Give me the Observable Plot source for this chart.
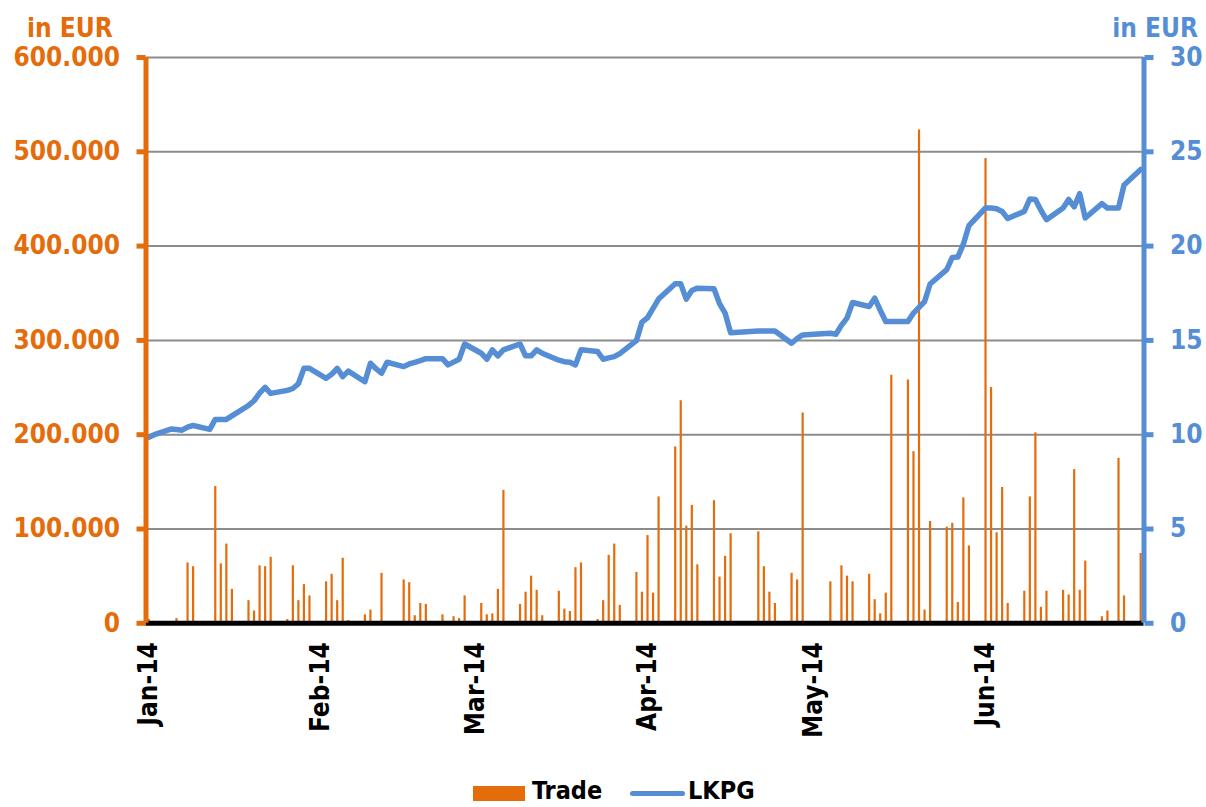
<!DOCTYPE html>
<html><head><meta charset="utf-8">
<script src="https://cdn.jsdelivr.net/npm/d3@7"></script>
<script src="https://cdn.jsdelivr.net/npm/@observablehq/plot@0.6"></script>
<style>
body{margin:0;background:#fff;}
#wrap{position:relative;width:1206px;height:807px;overflow:hidden;background:#fff;font-family:"DejaVu Sans Condensed","DejaVu Sans",sans-serif;font-weight:bold;}
#wrap svg{position:absolute;left:0;top:0;}
.lab{position:absolute;font-size:26px;line-height:1;white-space:nowrap;}
</style></head><body><div id="wrap"></div>
<script>
// Trading days (Jan–Jun 2014)
const dates = [
"2014-01-02","2014-01-03","2014-01-06","2014-01-07","2014-01-08","2014-01-09","2014-01-10","2014-01-13","2014-01-14","2014-01-15","2014-01-16","2014-01-17","2014-01-20","2014-01-21","2014-01-22","2014-01-23","2014-01-24","2014-01-27","2014-01-28","2014-01-29","2014-01-30","2014-01-31",
"2014-02-03","2014-02-04","2014-02-05","2014-02-06","2014-02-07","2014-02-10","2014-02-11","2014-02-12","2014-02-13","2014-02-14","2014-02-17","2014-02-18","2014-02-19","2014-02-20","2014-02-21","2014-02-24","2014-02-25","2014-02-26","2014-02-27","2014-02-28",
"2014-03-03","2014-03-04","2014-03-05","2014-03-06","2014-03-07","2014-03-10","2014-03-11","2014-03-12","2014-03-13","2014-03-14","2014-03-17","2014-03-18","2014-03-19","2014-03-20","2014-03-21","2014-03-24","2014-03-25","2014-03-26","2014-03-27","2014-03-28","2014-03-31",
"2014-04-01","2014-04-02","2014-04-03","2014-04-04","2014-04-07","2014-04-08","2014-04-09","2014-04-10","2014-04-11","2014-04-14","2014-04-15","2014-04-16","2014-04-17","2014-04-22","2014-04-23","2014-04-24","2014-04-25","2014-04-28","2014-04-29","2014-04-30",
"2014-05-02","2014-05-05","2014-05-06","2014-05-07","2014-05-08","2014-05-09","2014-05-12","2014-05-13","2014-05-14","2014-05-15","2014-05-16","2014-05-19","2014-05-20","2014-05-21","2014-05-22","2014-05-23","2014-05-26","2014-05-27","2014-05-28","2014-05-29","2014-05-30",
"2014-06-02","2014-06-03","2014-06-04","2014-06-05","2014-06-06","2014-06-09","2014-06-10","2014-06-11","2014-06-12","2014-06-13","2014-06-16","2014-06-17","2014-06-18","2014-06-19","2014-06-20","2014-06-23","2014-06-24","2014-06-25","2014-06-26","2014-06-27","2014-06-30"
];
// Trade (thousand EUR)
const trade = [
4,2,0,5,0,64,60,0,145,63,84,36,24,13,61,60,70,4,61,24,41,29,
44,52,24,69,3,9,14,1,53,0,46,43,8,21,20,9,0,7,5,29,
21,9,10,36,141,20,33,50,35,8,34,15,12.5,59,64,4,24,72,84,19,54,
33,93,32,134,187,236,103,125,62,130,49,71,95,97,60,33,21,53,46,223,
0,44,0,61,50,44,52,25,10,32,263,258,182,523,14,108,102,106,22,133,82,
493,250,96,144,21,34,134,202,17,34,35,30,163,35,66,7,13,0,175,29,74
];
// LKPG price (EUR)
const price = [
9.86,10.0,10.30,10.27,10.24,10.40,10.49,10.28,10.81,10.81,10.81,11.0,11.55,11.8,12.2,12.51,12.19,12.35,12.45,12.7,13.52,13.52,
12.99,13.2,13.52,13.08,13.37,12.81,13.79,13.5,13.26,13.84,13.61,13.75,13.84,13.93,14.03,14.03,13.70,13.85,14.0,14.81,
14.32,14.0,14.5,14.18,14.5,14.81,14.18,14.18,14.5,14.32,13.95,13.87,13.84,13.70,14.5,14.41,14.0,14.07,14.14,14.3,14.99,
15.97,16.2,16.7,17.19,18.0,18.0,17.19,17.65,17.77,17.74,16.95,16.45,15.41,15.5,15.5,15.5,15.5,14.85,15.1,15.29,
15.32,15.38,15.33,15.8,16.18,17.01,16.8,17.24,16.6,16.0,16.0,16.0,16.45,16.75,17.06,17.99,18.75,19.4,19.42,20.1,21.08,
22.02,22.02,21.98,21.84,21.46,21.84,22.5,22.47,21.9,21.4,22.02,22.47,22.08,22.78,21.49,22.25,22.02,22.02,22.02,23.24,24.06
];
const leftTicks = [0,100000,200000,300000,400000,500000,600000];
const rightTicks = [0,5,10,15,20,25,30];
const xTickDates = ["2014-01-02","2014-02-02","2014-03-02","2014-04-02","2014-05-02","2014-06-02"];

const orange = "#E46C0A", blue = "#558ED5";
const parse = d3.utcParse("%Y-%m-%d");
const rows = dates.map((d,i)=>({date: parse(d), trade: trade[i]*1000, price: price[i]}));
const day = 864e5;
const x0 = new Date(+rows[0].date - 0.5*day);
const x1 = new Date(+rows[rows.length-1].date + 0.6*day);
const k = leftTicks[leftTicks.length-1] / rightTicks[rightTicks.length-1];
const font = '"DejaVu Sans Condensed","DejaVu Sans",sans-serif';

const chart = Plot.plot({
  width: 1206, height: 780,
  marginTop: 57, marginBottom: 157.2, marginLeft: 145.5, marginRight: 62.5,
  style: {fontFamily: font, fontWeight: "bold", background: "transparent", overflow: "visible"},
  x: {type: "utc", domain: [x0, x1], label: null},
  y: {domain: [0, 600000], label: null},
  marks: [
    Plot.ruleY(leftTicks.filter(v => v > 0), {stroke: "#8c8c8c", strokeWidth: 2}),
    Plot.ruleX(rows.filter(d => d.trade > 0), {x: "date", y1: 0, y2: "trade", stroke: orange, strokeWidth: 2.2}),
    Plot.line(rows, {x: "date", y: d => d.price * k, stroke: blue, strokeWidth: 5.5, strokeLinejoin: "round", strokeLinecap: "round"}),
    Plot.ruleY([0], {stroke: "black", strokeWidth: 5}),
    Plot.ruleX([x0], {y1: 0, y2: 600000, stroke: orange, strokeWidth: 5}),
    Plot.ruleX([x1], {y1: 0, y2: 600000, stroke: blue, strokeWidth: 5}),
    Plot.axisY({anchor: "left", ticks: leftTicks, tickSize: 9, tickPadding: 17, color: orange, strokeWidth: 5, fontSize: 26, fontWeight: "bold", label: null,
      tickFormat: d => d3.format(",")(d).replace(/,/g, ".")}),
    Plot.axisY({anchor: "right", ticks: rightTicks.map(v => v * k), tickSize: 9, tickPadding: 17, color: blue, strokeWidth: 5, fontSize: 26, fontWeight: "bold", label: null,
      tickFormat: d => String(d / k)}),
    Plot.axisX({ticks: xTickDates.map(parse), tickFormat: d3.utcFormat("%b-%y"), tickRotate: -90, tickSize: 0, tickPadding: 19, color: "black", fontSize: 26, fontWeight: "bold", label: null})
  ]
});
const wrap = document.getElementById("wrap");
wrap.appendChild(chart);

function addLab(text, css) {
  const d = document.createElement("div");
  d.className = "lab";
  d.textContent = text;
  Object.assign(d.style, css);
  wrap.appendChild(d);
  return d;
}
addLab("in EUR", {left: "27px", top: "15px", color: orange});
addLab("in EUR", {right: "8px", top: "15px", color: blue});
// legend
const sw = document.createElement("div");
Object.assign(sw.style, {position: "absolute", left: "473px", top: "786px", width: "52px", height: "15px", background: orange});
wrap.appendChild(sw);
addLab("Trade", {left: "532px", top: "778px", color: "black", fontSize: "25px"});
const ln = document.createElement("div");
Object.assign(ln.style, {position: "absolute", left: "630px", top: "791px", width: "55px", height: "5px", borderRadius: "3px", background: blue});
wrap.appendChild(ln);
addLab("LKPG", {left: "688px", top: "778px", color: "black", fontSize: "25px"});
</script>
</body></html>
